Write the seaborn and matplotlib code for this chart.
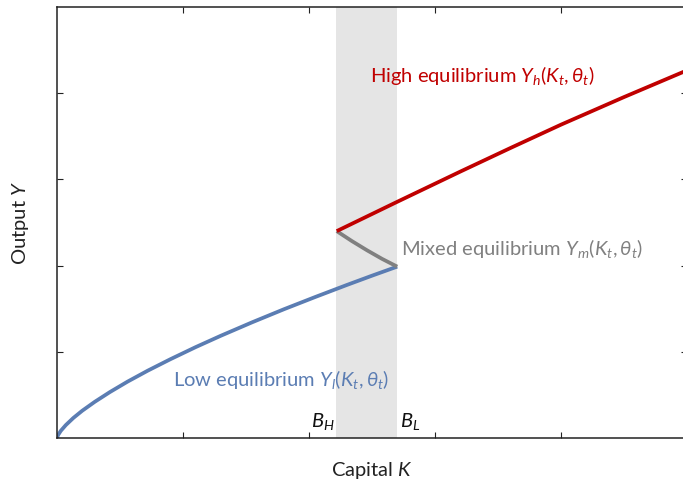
import matplotlib
matplotlib.use("Agg")
import matplotlib.pyplot as plt
import numpy as np
import pandas as pd
import seaborn as sns

# Capital stock grid and output levels for the three equilibrium branches
low_k = [0.0, 0.002, 0.01, 0.03, 0.07, 0.13, 0.2, 0.3, 0.42, 0.56, 0.72, 0.9,
         1.1, 1.3, 1.55, 1.8, 2.05, 2.3, 2.5, 2.7]
low_y = [0.0, 0.012, 0.038, 0.083, 0.150, 0.233, 0.316, 0.420, 0.533, 0.654, 0.781, 0.914,
         1.054, 1.186, 1.343, 1.493, 1.636, 1.775, 1.883, 1.988]

mixed_k = [2.22, 2.34, 2.46, 2.58, 2.7]
mixed_y = [2.40, 2.285, 2.178, 2.078, 1.988]

high_k = [2.22, 2.7, 3.2, 3.6, 4.0, 4.5, 5.0]
high_y = [2.40, 2.74, 3.09, 3.365, 3.635, 3.955, 4.265]

# Thresholds bounding the region of multiple equilibria
B_H = 2.215
B_L = 2.70

BLUE = "#5B7DB3"
RED = "#C00000"
GRAY = "#808080"

sns.set_theme(style="ticks")
plt.rcParams["font.family"] = ["Lato", "DejaVu Sans"]
plt.rcParams["mathtext.fontset"] = "custom"
plt.rcParams["mathtext.rm"] = "Lato"
plt.rcParams["mathtext.it"] = "Lato:italic"
plt.rcParams["mathtext.fallback"] = "stixsans"

fig = plt.figure(figsize=(6.83, 4.82), dpi=100)
ax = fig.add_axes([57 / 683, 1 - 438 / 482, 630 / 683, 431 / 482])

ax.axvspan(B_H, B_L, color="#E5E5E5", lw=0, zorder=0)

low = pd.DataFrame({"K": low_k, "Y": low_y})
mixed = pd.DataFrame({"K": mixed_k, "Y": mixed_y})
high = pd.DataFrame({"K": high_k, "Y": high_y})

line_kw = dict(lw=2.7, sort=False, solid_capstyle="butt")
sns.lineplot(data=low, x="K", y="Y", ax=ax, color=BLUE, **line_kw)
sns.lineplot(data=mixed, x="K", y="Y", ax=ax, color=GRAY, **line_kw)
sns.lineplot(data=high, x="K", y="Y", ax=ax, color=RED, **line_kw)

ax.set_xlim(0, 5)
ax.set_ylim(0, 5)
ax.set_xticks([1, 2, 3, 4])
ax.set_yticks([1, 2, 3, 4])
ax.tick_params(direction="in", length=4, width=0.8, color="#222222",
               top=True, right=True, labelbottom=False, labelleft=False)
for s in ax.spines.values():
    s.set_linewidth(1.1)
    s.set_color("#222222")

fs = 14.5
ax.set_xlabel(r"Capital $K$", fontsize=fs, labelpad=16, color="#222222")
ax.set_ylabel(r"Output $Y$", fontsize=fs, labelpad=19, color="#222222")

ax.text(2.484, 4.21, r"High equilibrium $Y_h(K_t,\theta_t)$", color=RED,
        fontsize=fs, va="center", ha="left")
ax.text(2.73, 2.20, r"Mixed equilibrium $Y_m(K_t,\theta_t)$", color=GRAY,
        fontsize=fs, va="center", ha="left")
ax.text(0.92, 0.684, r"Low equilibrium $Y_l(K_t,\theta_t)$", color=BLUE,
        fontsize=fs, va="center", ha="left")
ax.text(B_H - 0.01, 0.19, r"$B_H$", fontsize=fs, va="center", ha="right", color="#111111")
ax.text(B_L + 0.02, 0.19, r"$B_L$", fontsize=fs, va="center", ha="left", color="#111111")

fig.savefig("out.png", dpi=100)
